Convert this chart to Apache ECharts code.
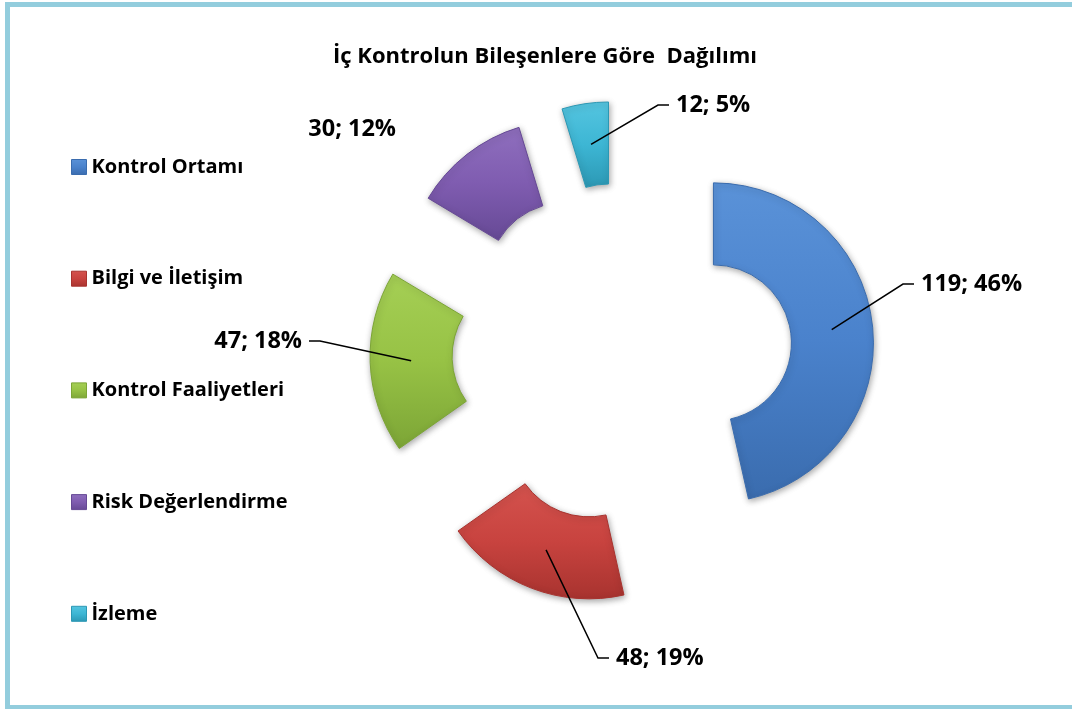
<!DOCTYPE html>
<html>
<head>
<meta charset="utf-8">
<title>İç Kontrolun Bileşenlere Göre Dağılımı</title>
<script src="https://cdn.jsdelivr.net/npm/echarts@6/dist/echarts.min.js"></script>
<style>
  html, body { margin: 0; padding: 0; background: #ffffff; }
  #chart { width: 1072px; height: 709px; }
</style>
</head>
<body>
<div id="chart"></div>
<script>
// data
const categories = ["Kontrol Ortamı", "Bilgi ve İletişim", "Kontrol Faaliyetleri", "Risk Değerlendirme", "İzleme"];
const values = [119, 48, 47, 30, 12];
const showLeader = [true, true, true, false, true];

// look
const baseColors = ["#4a82cc", "#c8433f", "#97c245", "#7f5cb0", "#3db6d4"];
const lightColors = ["#5a92d8", "#d4534e", "#a5cf55", "#8f6fbe", "#55c5e0"];
const darkColors = ["#3a6cae", "#a8332f", "#7ca536", "#664995", "#2c98b4"];
const FONT = "'Open Sans', Lato, sans-serif";

// layout
const CENTER = [622, 353];
const R_IN = 78;
const R_OUT = 160;
const EXPLODE = 92;
// elbow of each leader line, and which side the text sits on
const elbows = [[903, 284], [598, 658], [320, 341], [396, 129], [658, 105]];
const sides = ["right", "right", "left", "left", "right"];
const TAIL = 11;
const TEXT_GAP = 7;

const total = values.reduce((a, b) => a + b, 0);

function sliceFill(i) {
  return new echarts.graphic.LinearGradient(0, 0, 0, 1, [
    { offset: 0, color: lightColors[i] },
    { offset: 0.5, color: baseColors[i] },
    { offset: 1, color: darkColors[i] },
  ]);
}

// each slice is its own ring, pushed out along its middle angle (exploded doughnut)
function sliceInfo(i) {
  let before = 0;
  for (let k = 0; k < i; k++) before += values[k];
  const mid = ((before + values[i] / 2) / total) * Math.PI * 2;
  const dir = [Math.sin(mid), -Math.cos(mid)];
  return {
    before: before,
    after: total - before - values[i],
    dir: dir,
    center: [CENTER[0] + dir[0] * EXPLODE, CENTER[1] + dir[1] * EXPLODE],
  };
}

const hidden = { color: "rgba(0,0,0,0)", borderWidth: 0, shadowBlur: 0 };

// role "fill" draws the slice, role "label" lays a clear copy on top that carries
// the label and its leader line, so the line is drawn over the slice
function sliceSeries(i, role) {
  const info = sliceInfo(i);
  const isLabel = role === "label";
  const data = [];
  const gap = (v) => ({
    value: v,
    name: "_gap",
    itemStyle: hidden,
    label: { show: false },
    labelLine: { show: false },
  });
  if (info.before > 0) data.push(gap(info.before));
  const visibleIndex = data.length;
  data.push({
    name: categories[i],
    value: values[i],
    itemStyle: isLabel
      ? hidden
      : {
          color: sliceFill(i),
          borderColor: darkColors[i],
          borderWidth: 1,
          shadowBlur: 6,
          shadowOffsetX: 1,
          shadowOffsetY: 2,
          shadowColor: "rgba(0,0,0,0.35)",
        },
    label: { show: isLabel },
    labelLine: { show: isLabel && showLeader[i] },
  });
  if (info.after > 0) data.push(gap(info.after));

  return {
    type: "pie",
    id: role + i,
    z: isLabel ? 5 : 2,
    silent: isLabel,
    center: info.center,
    radius: [R_IN, R_OUT],
    startAngle: 90,
    clockwise: true,
    percentPrecision: 0,
    avoidLabelOverlap: false,
    selectedMode: false,
    emphasis: { disabled: true },
    label: {
      show: isLabel,
      position: "outside",
      formatter: "{c}; {d}%",
      fontFamily: FONT,
      fontWeight: "bold",
      fontSize: 23.5,
      color: "#000000",
    },
    labelLine: {
      show: isLabel,
      lineStyle: { color: "#000000", width: 1.5 },
    },
    labelLayout: function (params) {
      if (!isLabel || params.dataIndex !== visibleIndex) return {};
      const e = elbows[i];
      const sign = sides[i] === "right" ? 1 : -1;
      if (!showLeader[i]) {
        return { x: e[0], y: e[1], align: "right", verticalAlign: "middle" };
      }
      const dist = (R_IN + R_OUT) / 2;
      const anchor = [info.center[0] + info.dir[0] * dist, info.center[1] + info.dir[1] * dist];
      const end = [e[0] + sign * TAIL, e[1]];
      return {
        x: end[0] + sign * TEXT_GAP,
        y: e[1],
        align: sign > 0 ? "left" : "right",
        verticalAlign: "middle",
        labelLinePoints: [anchor, e, end],
      };
    },
    data: data,
  };
}

const series = [];
values.forEach((v, i) => series.push(sliceSeries(i, "fill")));
values.forEach((v, i) => series.push(sliceSeries(i, "label")));

const chart = echarts.init(document.getElementById("chart"), null, { renderer: "canvas" });

const option = {
  animation: false,
  backgroundColor: "#ffffff",
  textStyle: { fontFamily: FONT },
  title: {
    text: "İç Kontrolun Bileşenlere Göre  Dağılımı",
    left: 328,
    top: 41,
    textStyle: { fontFamily: FONT, fontWeight: "bold", fontSize: 22, color: "#000000" },
  },
  graphic: [
    {
      type: "rect",
      silent: true,
      shape: { x: 7.5, y: 4.5, width: 1080, height: 703 },
      style: { fill: null, stroke: "#93cddd", lineWidth: 5 },
      z: 100,
    },
  ],
  legend: {
    orient: "vertical",
    left: 66,
    top: 152,
    itemWidth: 15,
    itemHeight: 15,
    itemGap: 91.7,
    icon: "rect",
    selectedMode: false,
    textStyle: { fontFamily: FONT, fontWeight: "bold", fontSize: 20, lineHeight: 20, color: "#000000" },
    data: categories.map((c, i) => ({
      name: c,
      itemStyle: { color: sliceFill(i), borderColor: darkColors[i], borderWidth: 1 },
    })),
  },
  series: series,
};

chart.setOption(option);
</script>
</body>
</html>
